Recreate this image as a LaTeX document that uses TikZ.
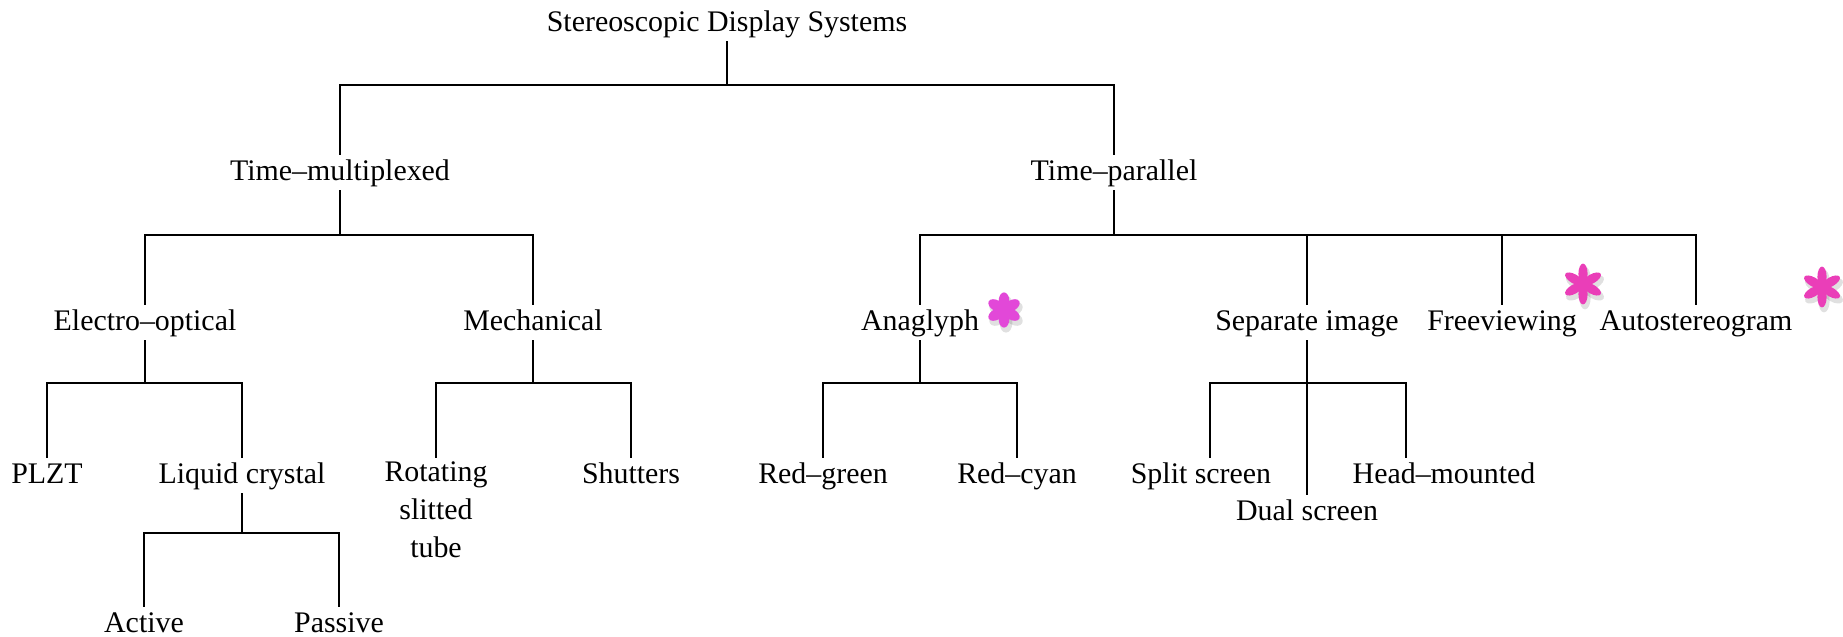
\documentclass[tikz,border=0pt]{standalone}
\usepackage{fontspec}
\setmainfont{Liberation Serif}
\definecolor{starpink}{RGB}{234,62,184}
\definecolor{flowerpink}{RGB}{226,72,216}
\newcommand\labelfont{\fontsize{8.5}{10.8}\selectfont}
\begin{document}
\begin{tikzpicture}[x=0.01cm,y=-0.01cm,inner sep=1pt,outer sep=0pt,line width=0.55pt,
cat/.style={font=\labelfont,text height=6pt,text depth=1.9pt,anchor=base},
catm/.style={font=\labelfont,align=center,anchor=north}]
\useasboundingbox (0,0) rectangle (1843,636);
% root and first split
\draw (727,31) node[cat] (root) {Stereoscopic Display Systems};
\draw (340,180) node[cat] (tmux) {Time--multiplexed};
\draw (1114,180) node[cat] (tpar) {Time--parallel};
\draw (root.south) -- ++(0,44) -| (tmux.north);
\draw (root.south) -- ++(0,44) -| (tpar.north);

% time-multiplexed
\draw (145,330) node[cat] (eo) {Electro--optical};
\draw (533,330) node[cat] (mech) {Mechanical};
\draw (tmux.south) -- ++(0,45) -| (eo.north);
\draw (tmux.south) -- ++(0,45) -| (mech.north);

% time-parallel
\draw (920,330) node[cat] (anag) {Anaglyph};
\draw (1307,330) node[cat] (sepim) {Separate image};
\draw (1502,330) node[cat] (freev) {Freeviewing};
\draw (1696,330) node[cat] (autos) {Autostereogram};
\foreach \n in {anag,sepim,freev,autos}
  \draw (tpar.south) -- ++(0,45) -| (\n.north);

% electro-optical
\draw (47,483) node[cat] (plzt) {PLZT};
\draw (242,483) node[cat] (lc) {Liquid crystal};
\draw (eo.south) -- ++(0,43) -| (plzt.north);
\draw (eo.south) -- ++(0,43) -| (lc.north);
\draw (144,632) node[cat] (act) {Active};
\draw (339,632) node[cat] (pas) {Passive};
\draw (lc.south) -- ++(0,40) -| (act.north);
\draw (lc.south) -- ++(0,40) -| (pas.north);

% mechanical
\draw (436,458.4) node[catm] (rot) {Rotating\\slitted\\tube};
\draw (631,483) node[cat] (shut) {Shutters};
\draw (mech.south) -- ++(0,43) -| (rot.north);
\draw (mech.south) -- ++(0,43) -| (shut.north);

% anaglyph
\draw (823,483) node[cat] (rg) {Red--green};
\draw (1017,483) node[cat] (rc) {Red--cyan};
\draw (anag.south) -- ++(0,43) -| (rg.north);
\draw (anag.south) -- ++(0,43) -| (rc.north);

% separate image
\draw (1201,483) node[cat] (split) {Split screen};
\draw (1307,520) node[cat] (dual) {Dual screen};
\draw (1444,483) node[cat] (head) {Head--mounted};
\draw (sepim.south) -- ++(0,43) -| ([xshift=0.09cm]split.north);
\draw (sepim.south) -- ++(0,43) -| ([xshift=-0.38cm]head.north);
\draw (sepim.south) -- (dual.north);

% asterisks
\foreach \c/\px/\py/\len/\wd in {flowerpink/1004/310/8.8/5.4,starpink/1583/284/10.2/4.6,starpink/1822/287/10.2/4.6}{
  \foreach \a in {30,90,...,330}
    \fill[black,opacity=0.12,rotate around={\a:(\px+2,\py+4)}] (\px+2+\len,\py+4) ellipse [x radius=\len+1,y radius=\wd+1];
  \foreach \a in {30,90,...,330}
    \fill[\c,rotate around={\a:(\px,\py)}] (\px+\len,\py) ellipse [x radius=\len,y radius=\wd];
}
\end{tikzpicture}
\end{document}
